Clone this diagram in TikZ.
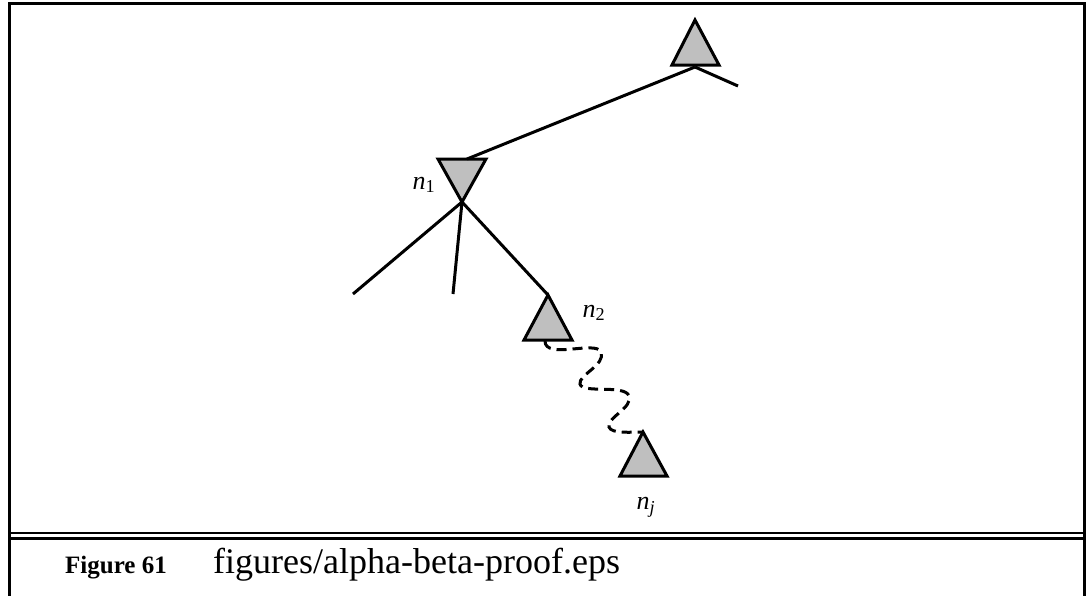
\documentclass[tikz,border=0pt]{standalone}
\usepackage{fontspec}
\setmainfont{Liberation Serif}
\begin{document}
\begin{tikzpicture}[x=1pt,y=-1pt,
  tri/.style={draw=black,fill=black!25,line width=3pt,line join=miter},
  edge/.style={draw=black,line width=3pt},
  wavy/.style={draw=black,line width=3pt,dash pattern=on 10pt off 6pt},
  frame/.style={draw=black,line width=3pt},
  lbl/.style={inner sep=0pt,font=\fontsize{26}{28}\selectfont}]
\useasboundingbox (0,0) rectangle (1087,595);
% frame
\draw[frame] (9,600) -- (9,3) -- (1084,3) -- (1084,600);
\draw[line width=2.8pt] (9,533) -- (1084,533);
\draw[line width=2.8pt] (9,538.5) -- (1084,538.5);
% named points
\coordinate (ta) at (695,20);
\coordinate (tb) at (695,67);
\coordinate (tr) at (738,86);
\coordinate (n1a) at (462,202);
\coordinate (n1t) at (467,159);
\coordinate (l1) at (353,294);
\coordinate (l2) at (453,294);
\coordinate (n2a) at (548,295);
\coordinate (n2b) at (545,341);
\coordinate (nja) at (643,432);
% triangles
\draw[tri] (ta) -- (672,65) -- (719,65) -- cycle;
\draw[tri] (438,159) -- (486,159) -- (n1a) -- cycle;
\draw[tri] (n2a) -- (524,340) -- (572,340) -- cycle;
\draw[tri] (nja) -- (620,476) -- (667,476) -- cycle;
% edges
\draw[edge] (tb) -- (tr);
\draw[edge] (tb) -- (n1t);
\draw[edge] (n1a) -- (l1);
\draw[edge] (n1a) -- (l2);
\draw[edge] (n1a) -- (n2a);
\draw[wavy] (n2b) .. controls (545,360) and (596,340) .. (601,352)
  .. controls (606,365) and (578,375) .. (580,384)
  .. controls (582,394) and (625,384) .. (629,396)
  .. controls (633,408) and (606,418) .. (609,427)
  .. controls (611,434) and (632,432) .. (nja);
% labels
\node[lbl] (lab1) at (424,185) {\textit{n}\textsubscript{1}};
\node[lbl] (lab2) at (594,313) {\textit{n}\textsubscript{2}};
\node[lbl] (labj) at (646,507) {\textit{n}\textsubscript{\textit{j}}};
% caption
\node[anchor=base west,inner sep=0pt,font=\fontsize{25}{28}\selectfont\bfseries] (fig) at (65,573) {Figure 61};
\node[anchor=base west,inner sep=0pt,font=\fontsize{36}{40}\selectfont] (cap) at (213,573) {figures/alpha-beta-proof.eps};
\end{tikzpicture}
\end{document}
